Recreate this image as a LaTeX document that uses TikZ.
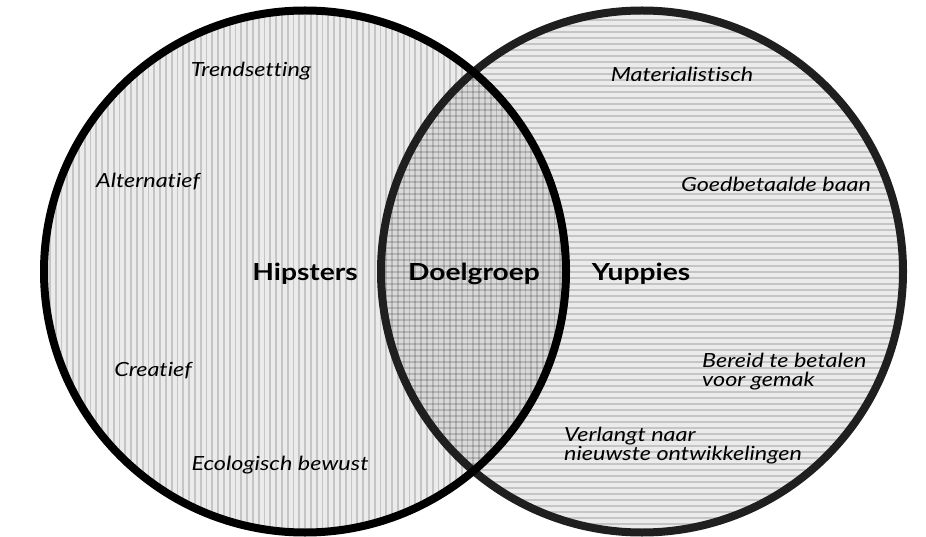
\documentclass[tikz,border=0pt]{standalone}
\usepackage{fontspec}
\setmainfont{Lato}[FakeStretch=1.2, Ligatures=NoCommon]
\begin{document}
\begin{tikzpicture}[x=1pt,y=-1pt,
  lbl/.style={font=\fontsize{19.5}{19}\selectfont\itshape, inner sep=0pt, anchor=base},
  lblw/.style={font=\fontsize{19.5}{19}\selectfont\itshape, inner sep=0pt, anchor=base west, align=left},
  title/.style={font=\fontsize{23.5}{24}\selectfont\bfseries, inner sep=0pt, anchor=base},
  ring/.style={line width=8pt},
  stripe/.style={black, opacity=0.16, line width=1.8pt}
]
\useasboundingbox (0,0) rectangle (926,537);
\coordinate (cl) at (305,271.5);
\coordinate (cr) at (642,271.5);
% fills
\fill[black, fill opacity=0.08] (cl) circle[radius=261];
\fill[black, fill opacity=0.08] (cr) circle[radius=261];
% vertical stripes in left circle
\begin{scope}
  \clip (cl) circle[radius=261];
  \foreach \i in {0,...,92} {
    \draw[stripe] ({44+\i*5.8},0) -- ({44+\i*5.8},537);
  }
\end{scope}
% horizontal stripes in right circle
\begin{scope}
  \clip (cr) circle[radius=261];
  \foreach \i in {0,...,90} {
    \draw[stripe] (370,{8+\i*6}) -- (910,{8+\i*6});
  }
\end{scope}
% outlines
\draw[ring, black!88] (cr) circle[radius=261];
\draw[ring, black] (cl) circle[radius=261];
% titles
\node[title] (hip) at (305,280) {Hipsters};
\node[title] (doel) at (474,280) {Doelgroep};
\node[title] (yup) at (641,280) {Yuppies};
% left labels
\node[lbl] (trend) at (251,77) {Trendsetting};
\node[lbl] (alt) at (148,188) {Alternatief};
\node[lbl] (crea) at (153,376) {Creatief};
\node[lbl] (eco) at (280,470) {Ecologisch bewust};
% right labels
\node[lbl] (mat) at (682,82) {Materialistisch};
\node[lbl] (goed) at (776,192) {Goedbetaalde baan};
\node[lblw] (ber) at (702,386) {Bereid te betalen\\voor gemak};
\node[lblw] (ver) at (564,460) {Verlangt naar\\nieuwste ontwikkelingen};
\end{tikzpicture}
\end{document}
